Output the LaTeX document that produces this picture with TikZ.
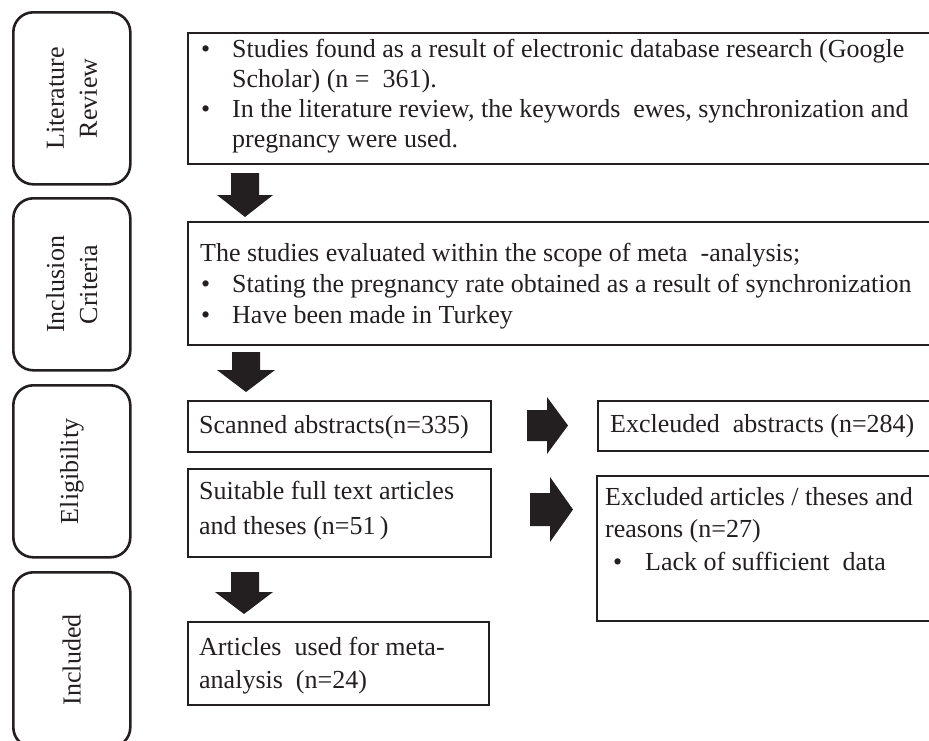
\documentclass[tikz,border=0pt]{standalone}
\usepackage{fontspec}
\setmainfont{Liberation Serif}
\definecolor{ink}{HTML}{231F20}
\begin{document}
\begin{tikzpicture}[x=1pt,y=-1pt,
  stage/.style={draw=ink, line width=2.6pt, rounded corners=20pt, anchor=north west, inner sep=0pt, minimum width=117pt},
  box/.style={draw=ink, line width=2.2pt, anchor=north west, inner sep=0pt},
  txt/.style={anchor=base west, inner sep=0pt, font=\fontsize{26}{30}\selectfont, text=ink},
  lab/.style={rotate=90, align=center, inner sep=0pt, font=\fontsize{26}{33}\selectfont, text=ink},
  blk/.style={fill=ink}]
\useasboundingbox (0,0) rectangle (929,740);
\clip (0,0) rectangle (929,740);

% stage boxes (left)
\node[stage, minimum height=172pt] (s1) at (12,11) {};
\node[stage, minimum height=172pt] (s2) at (12,197) {};
\node[stage, minimum height=172pt] (s3) at (12,384) {};
\node[stage, minimum height=175pt] (s4) at (12,571) {};
\node[lab] (l1) at (s1.center) {Literature\\Review};
\node[lab] (l2) at (s2.center) {Inclusion\\Criteria};
\node[lab] (l3) at (s3.center) {Eligibility};
\node[lab] (l4) at (s4.center) {Included};

% content boxes
\node[box, minimum width=780pt, minimum height=131pt] (A) at (187,32) {};
\node[box, minimum width=780pt, minimum height=123pt] (B) at (187,221) {};
\node[box, minimum width=303pt, minimum height=51pt] (C) at (187,399.5) {};
\node[box, minimum width=370pt, minimum height=50pt] (D) at (597,400) {};
\node[box, minimum width=303pt, minimum height=88pt] (E) at (187,468) {};
\node[box, minimum width=370pt, minimum height=145pt] (F) at (596,475) {};
\node[box, minimum width=301pt, minimum height=83pt] (G) at (187,621) {};

% texts box A
\node[txt] (a0) at (201,57) {•};
\node[txt] (a1) at (232,57) {Studies found as a result of electronic database research (Google};
\node[txt] (a2) at (232,87) {Scholar) (n = \ 361).};
\node[txt] (a3b) at (201,117) {•};
\node[txt] (a3) at (232,117) {In the literature review, the keywords \ ewes, synchronization and};
\node[txt] (a4) at (232,147) {pregnancy were used.};

% texts box B
\node[txt] (b1) at (200,261) {The studies evaluated within the scope of meta \ -analysis;};
\node[txt] (b2b) at (201,292) {•};
\node[txt] (b2) at (232,292) {Stating the pregnancy rate obtained as a result of synchronization};
\node[txt] (b3b) at (201,323) {•};
\node[txt] (b3) at (232,323) {Have been made in Turkey};

% eligibility texts
\node[txt] (c1) at (199,433) {Scanned abstracts(n=335)};
\node[txt] (d1) at (610,432) {Excleuded \ abstracts (n=284)};
\node[txt] (e1) at (199,499) {Suitable full text articles};
\node[txt] (e2) at (199,534) {and theses (n=51\,)};
\node[txt] (f1) at (605,505) {Excluded articles / theses and};
\node[txt] (f2) at (605,537) {reasons (n=27)};
\node[txt] (f3b) at (613,570) {•};
\node[txt] (f3) at (645,570) {Lack of sufficient \ data};
\node[txt] (g1) at (199,655) {Articles \ used for meta-};
\node[txt] (g2) at (199,688) {analysis \ (n=24)};

% block arrows
\fill[blk] (231,173) -- (259,173) -- (259,195) -- (273,195) -- (245,217) -- (217,195) -- (231,195) -- cycle;
\fill[blk] (232,352) -- (260,352) -- (260,370) -- (275,370) -- (246,392) -- (217,370) -- (232,370) -- cycle;
\fill[blk] (231,572) -- (259,572) -- (259,592) -- (273,592) -- (244,614) -- (215,592) -- (231,592) -- cycle;
\fill[blk] (527,410) -- (547,410) -- (547,397) -- (568,425.5) -- (547,454) -- (547,441) -- (527,441) -- cycle;
\fill[blk] (530,493) -- (550,493) -- (550,477) -- (573,509.5) -- (550,542) -- (550,526) -- (530,526) -- cycle;
\end{tikzpicture}
\end{document}
